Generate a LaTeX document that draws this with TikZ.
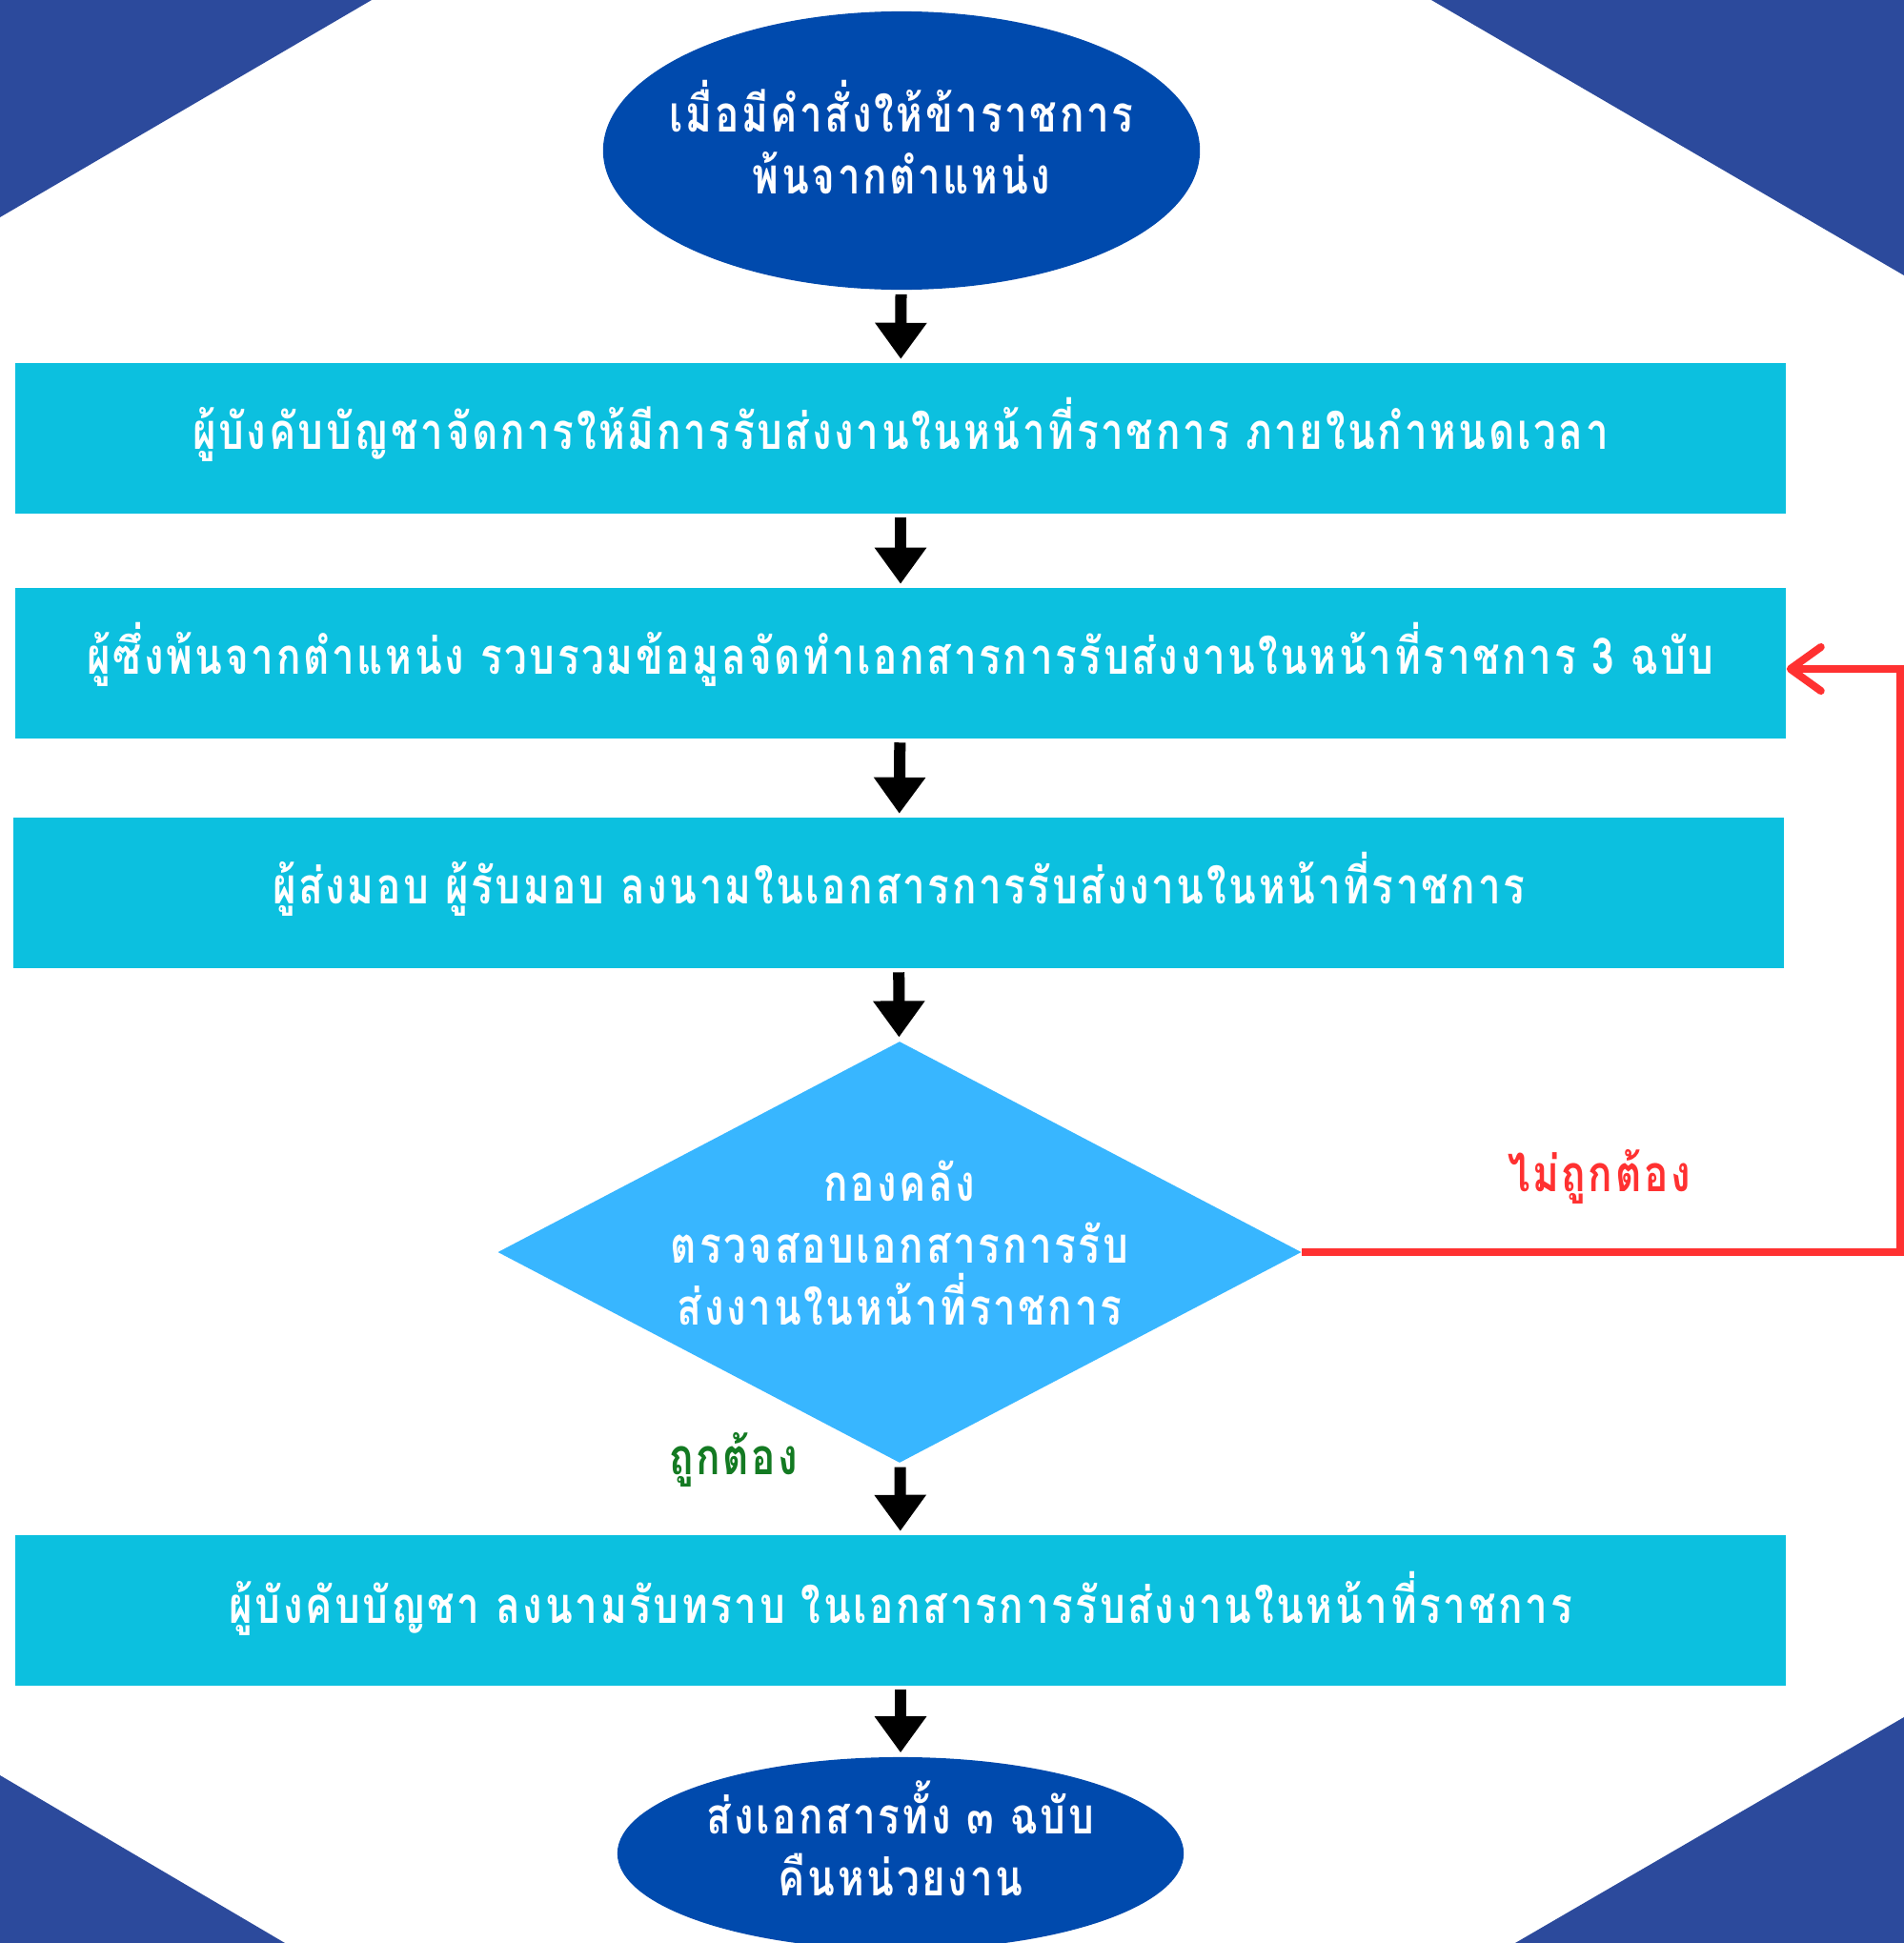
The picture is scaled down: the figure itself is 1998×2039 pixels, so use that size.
\documentclass[tikz,border=0pt]{standalone}
\usepackage{fontspec}
\newfontfamily\thaifont[Script=Thai,LetterSpace=5,FakeStretch=0.8]{Loma}
\usepackage{tikz}
\usetikzlibrary{shapes.geometric,arrows.meta}

\definecolor{navy}{HTML}{004AAD}
\definecolor{corner}{HTML}{2C4A9C}
\definecolor{cyanbox}{HTML}{0CC0DF}
\definecolor{skyblue}{HTML}{38B6FF}
\definecolor{wrong}{HTML}{FF3131}
\definecolor{right}{HTML}{137A22}

\newcommand\lift[2][.09cm]{\raisebox{#1}[\height][\depth]{#2}}

\tikzset{
  thai/.style={font=\thaifont\bfseries\fontsize{15}{18.5}\selectfont},
  startend/.style={ellipse,fill=navy,text=white,inner ysep=0pt,inner xsep=-.3cm,align=center,thai},
  stepbox/.style={rectangle,fill=cyanbox,text=white,inner sep=0pt,minimum width=18.57cm,minimum height=1.57cm,thai},
  check/.style={diamond,fill=skyblue,text=white,inner sep=0pt,shape aspect=1.9,align=center,minimum width=8.43cm,minimum height=4.42cm,thai},
  flow/.style={line width=.12cm,-{Triangle[length=.38cm,width=.52cm]},shorten <=.04cm,shorten >=.04cm},
  back/.style={wrong,line width=.08cm,-{Straight Barb[length=.32cm,width=.46cm,round]}}
}

\begin{document}
\begin{tikzpicture}[x=.01cm,y=-.01cm]
\useasboundingbox (0,0) rectangle (1998,2039);
\fill[white] (0,0) rectangle (1998,2039);
\fill[corner] (0,0)--(390,0)--(0,228)--cycle;
\fill[corner] (1502,0)--(1998,0)--(1998,289)--cycle;
\fill[corner] (0,1863)--(299,2039)--(0,2039)--cycle;
\fill[corner] (1998,1802)--(1998,2039)--(1590,2039)--cycle;

\node[startend,minimum width=6.26cm,minimum height=2.92cm] (start) at (946,158) {\lift[.14cm]{เมื่อมีคำสั่งให้ข้าราชการ}\\\lift[.14cm]{พ้นจากตำแหน่ง}};
\node[stepbox] (assign) at (945,460) {\lift{ผู้บังคับบัญชาจัดการให้มีการรับส่งงานในหน้าที่ราชการ ภายในกำหนดเวลา}};
\node[stepbox] (collect) at (945,696) {\lift{ผู้ซึ่งพ้นจากตำแหน่ง รวบรวมข้อมูลจัดทำเอกสารการรับส่งงานในหน้าที่ราชการ 3 ฉบับ}};
\node[stepbox] (sign) at (943,937) {\lift{ผู้ส่งมอบ ผู้รับมอบ ลงนามในเอกสารการรับส่งงานในหน้าที่ราชการ}};
\node[check] (audit) at (944,1314) {\lift[.1cm]{กองคลัง}\\\lift[.1cm]{ตรวจสอบเอกสารการรับ}\\\lift[.1cm]{ส่งงานในหน้าที่ราชการ}};
\node[stepbox] (ack) at (945,1690) {\lift[.07cm]{ผู้บังคับบัญชา ลงนามรับทราบ ในเอกสารการรับส่งงานในหน้าที่ราชการ}};
\node[startend,minimum width=5.94cm,minimum height=2.02cm] (finish) at (945,1945) {\lift[.16cm]{ส่งเอกสารทั้ง ๓ ฉบับ}\\\lift[.16cm]{คืนหน่วยงาน}};

\draw[flow] (start) -- (assign);
\draw[flow] (assign) -- (collect);
\draw[flow] (collect) -- (sign);
\draw[flow] (sign) -- (audit);
\draw[flow] (audit) -- (ack);
\draw[flow] (ack) -- (finish);

\coordinate (edge) at (1994,1314);
\draw[back] (audit.east) -- (edge) |- ([yshift=-.06cm]collect.east);
\node[text=wrong,thai] (no) at (1678,1235) {ไม่ถูกต้อง};
\node[text=right,thai] (yes) at (770,1532) {ถูกต้อง};
\end{tikzpicture}
\end{document}
